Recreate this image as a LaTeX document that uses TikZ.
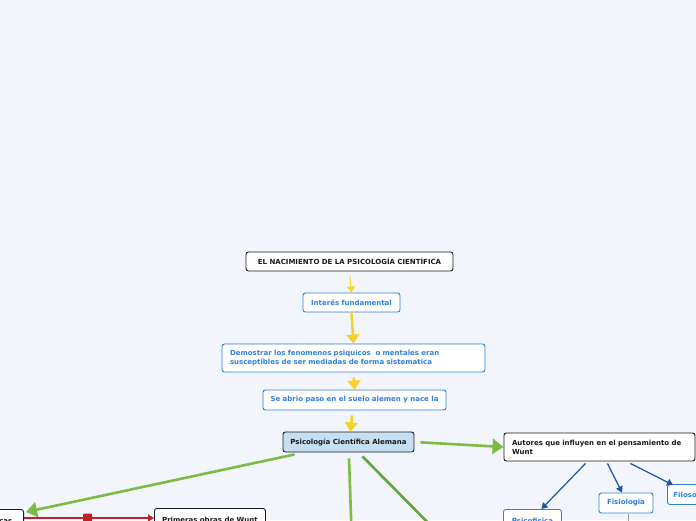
\documentclass[tikz,border=0pt]{standalone}
\usepackage{fontspec}
\setmainfont{DejaVu Sans}
\usepackage{tikz}
\usetikzlibrary{arrows.meta, positioning}
\usepackage{xcolor}
\definecolor{MapPaper}{HTML}{F2F5FC}
\definecolor{MapBlack}{HTML}{1A1A1A}
\definecolor{MapBlue}{HTML}{2F80DE}
\definecolor{MapNavy}{HTML}{1D55A6}
\definecolor{MapYellow}{HTML}{F6D32A}
\definecolor{MapGreen}{HTML}{7DBB42}
\definecolor{MapDarkGreen}{HTML}{5FA63B}
\definecolor{MapRed}{HTML}{C0202C}
\definecolor{MapSky}{HTML}{C6DEF1}
\definecolor{MapGray}{HTML}{9A9A9A}
\tikzset{
    % Node styles
    mainbox/.style={
        rectangle,
        rounded corners=2.5pt,
        draw=MapBlack,
        fill=white,
        line width=0.9pt,
        inner sep=0pt,
        text=MapBlack,
        font=\fontsize{7}{9}\selectfont\bfseries
    },
    topicbox/.style={
        mainbox,
        fill=MapSky
    },
    ideabox/.style={
        rectangle,
        rounded corners=2.5pt,
        draw=MapBlue,
        fill=white,
        line width=0.9pt,
        inner sep=0pt,
        text=MapBlue,
        font=\fontsize{7}{9}\selectfont\bfseries
    },
    % Arrow styles
    yellowarrow/.style={
        -{Triangle[length=9pt,width=13pt]},
        line width=2.6pt,
        MapYellow
    },
    thinyellow/.style={
        -{Triangle[length=6pt,width=8pt]},
        line width=1pt,
        MapYellow
    },
    greenarrow/.style={
        -{Triangle[length=11pt,width=15pt]},
        line width=2.6pt,
        MapGreen
    },
    greenline/.style={
        line width=2.6pt,
        MapGreen
    },
    redarrow/.style={
        -{Triangle[length=6pt,width=7pt]},
        line width=1.4pt,
        MapRed
    },
    bluearrow/.style={
        -{Triangle[length=6pt,width=7pt]},
        line width=1.2pt,
        MapNavy
    },
    redmark/.style={
        rectangle,
        fill=MapRed,
        minimum width=9pt,
        minimum height=9pt,
        inner sep=0pt,
        rounded corners=1pt
    }
}

\begin{document}
\begin{tikzpicture}[x=1pt, y=-1pt]
    \fill[MapPaper] (0,0) rectangle (696,520);
    \useasboundingbox (0,0) rectangle (696,520);
    \clip (0,0) rectangle (696,520);

    % Central chain
    \node[mainbox, minimum width=207pt, minimum height=19pt] (nacimiento) at (349.5,261.5)
        {EL NACIMIENTO DE LA PSICOLOGÍA CIENTÍFICA};
    \node[ideabox, minimum width=97pt, minimum height=19pt] (interes) at (351.5,302.5)
        {Interés fundamental};
    \node[ideabox, minimum width=263pt, minimum height=28pt, text width=247pt, align=left] (demostrar) at (353.5,358)
        {Demostrar los fenomenos psiquicos \ o mentales eran\\susceptibles de ser mediadas de forma sistematica};
    \node[ideabox, minimum width=183pt, minimum height=20pt] (suelo) at (354.5,400)
        {Se abrio paso en el suelo alemen y nace la};
    \node[topicbox, minimum width=131pt, minimum height=20pt] (alemana) at (348.5,442)
        {Psicología Científica Alemana};

    % Branches
    \node[mainbox, minimum width=191pt, minimum height=28pt, text width=175pt, align=left] (autores) at (599.5,447)
        {Autores que influyen en el pensamiento de\\Wunt};
    \node[mainbox, minimum width=80pt, minimum height=22pt, anchor=north east, align=right, inner xsep=6pt] (teoricas) at (24,509)
        {Obras teóricas};
    \node[mainbox, minimum width=111pt, minimum height=22pt, anchor=north west] (primeras) at (154,508)
        {Primeras obras de Wunt};
    \node[ideabox, minimum width=58pt, minimum height=22pt, anchor=north west] (psicofisica) at (503,509)
        {Psicofisica};
    \node[ideabox, minimum width=54pt, minimum height=20pt] (fisiologia) at (626,503)
        {Fisiologia};
    \node[ideabox, minimum width=58pt, minimum height=20pt, anchor=north west, text width=46pt, align=left] (filosofia) at (667,484)
        {Filosofia};

    % Free ends below the frame
    \coordinate (downA) at (352,545);
    \coordinate (downB) at (450,545);
    \coordinate (downC) at (628,545);

    % Arrows
    \draw[thinyellow, shorten <=5pt] (nacimiento.south) -- (interes.north);
    \draw[yellowarrow] (interes.south) -- (demostrar.north);
    \draw[yellowarrow, shorten <=5pt] (demostrar.south) -- (suelo.north);
    \draw[yellowarrow, shorten <=5pt] ([xshift=-2pt]suelo.south) -- ([xshift=2pt]alemana.north);
    \draw[greenarrow, shorten <=6pt] (alemana.east) -- (autores.west);
    \draw[greenarrow] ([xshift=12pt,yshift=-2pt]alemana.south west) -- ([xshift=2pt,yshift=-3pt]teoricas.north east);
    \draw[greenline] ([xshift=0.5pt,yshift=-6pt]alemana.south) -- (downA);
    \draw[greenline, MapDarkGreen] ([xshift=14pt,yshift=-4pt]alemana.south) -- (downB);
    \draw[redarrow] ([yshift=-9pt]teoricas.north east) -- node[redmark, pos=0.49] {} ([yshift=-10pt]primeras.north west);
    \draw[bluearrow] ([xshift=-14pt,yshift=-2pt]autores.south) -- ([xshift=9pt]psicofisica.north);
    \draw[bluearrow] ([xshift=8pt,yshift=-2pt]autores.south) -- ([xshift=-4pt]fisiologia.north);
    \draw[bluearrow] ([xshift=31pt,yshift=-2pt]autores.south) -- ([xshift=6pt,yshift=-1pt]filosofia.north west);
    \draw[MapGray, line width=1pt] ([xshift=2pt,yshift=-1pt]fisiologia.south) -- (downC);
\end{tikzpicture}
\end{document}
